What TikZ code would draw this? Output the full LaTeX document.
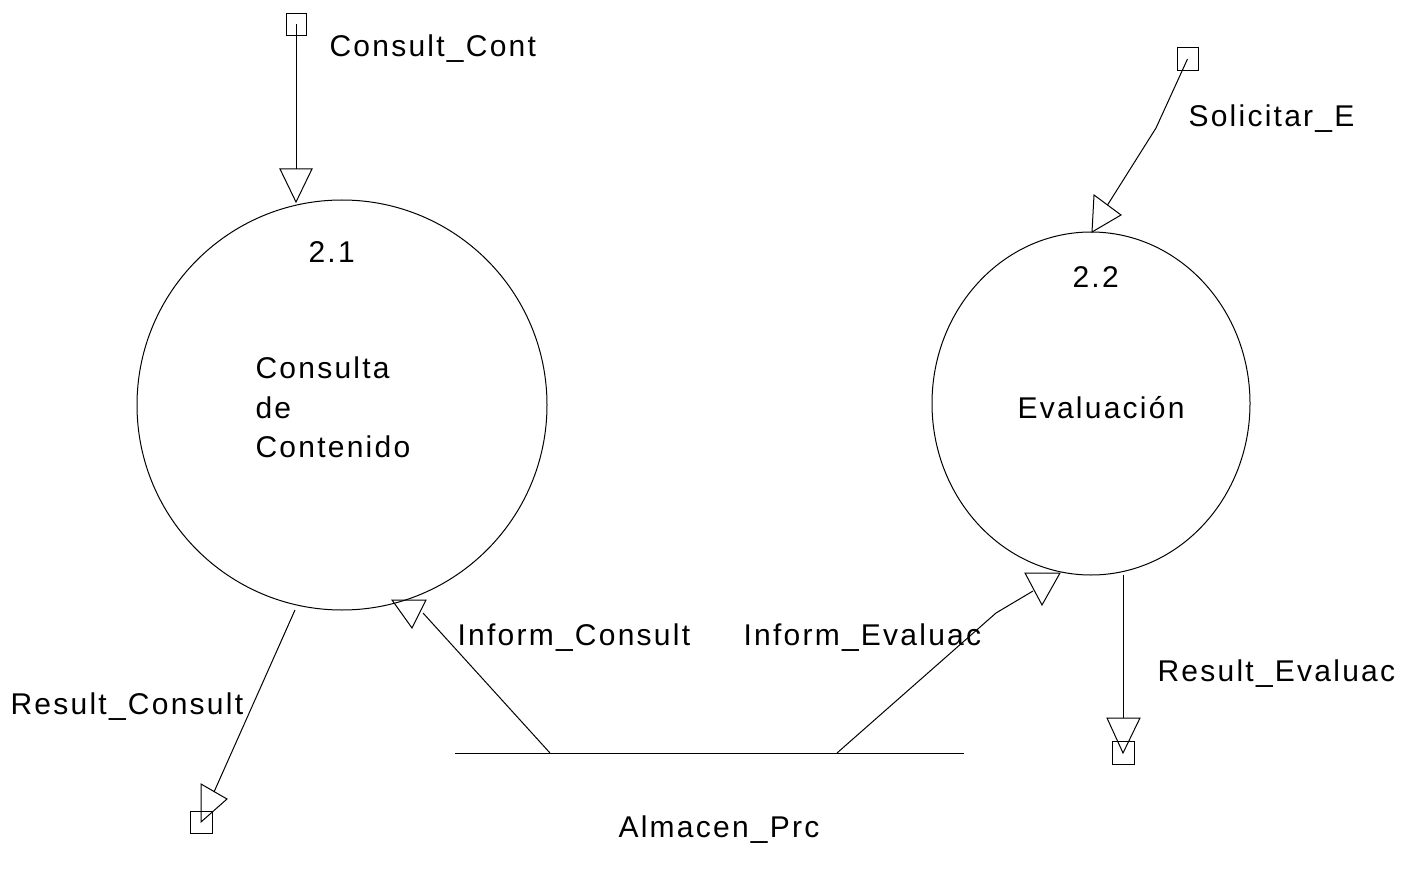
\documentclass[tikz,border=0pt]{standalone}
\usepackage{fontspec}
\setmainfont{Liberation Sans}[LetterSpace=7.5]
\usetikzlibrary{shapes.geometric}
\begin{document}
\begin{tikzpicture}[x=1pt,y=-1pt,line width=1pt,
  proc/.style={draw,ellipse,inner sep=0pt},
  term/.style={draw,rectangle,inner sep=0pt},
  flow/.style={draw,line join=miter},
  head/.style={draw,line join=miter},
  lbl/.style={anchor=base west,inner sep=0pt,font=\fontsize{30}{40}\selectfont}]
\useasboundingbox (0,0) rectangle (1415,890);
% processes
\node[proc,minimum width=410pt,minimum height=410pt] (p21) at (342,405) {};
\node[proc,minimum width=318pt,minimum height=343pt] (p22) at (1091,403.5) {};
% terminators
\node[term,minimum width=20pt,minimum height=22pt] (t1) at (296,24.5) {};
\node[term,minimum width=21pt,minimum height=23pt] (t2) at (1187.5,59) {};
\node[term,minimum width=22pt,minimum height=22pt] (t3) at (201,822) {};
\node[term,minimum width=22pt,minimum height=23pt] (t4) at (1123,752.5) {};
% store
\coordinate (s1) at (455,753);
\coordinate (s2) at (964,753);
\draw (s1) -- (s2);
% flow Consult_Cont
\coordinate (a1) at (296,169);
\draw[flow] (t1.center) -- (a1);
\draw[head] (280,169) -- (312,169) -- (296,202) -- cycle;
% flow Solicitar_E
\coordinate (b1) at (1156,128);
\coordinate (b2) at (1107.5,205);
\draw[flow] (t2.center) -- (b1) -- (b2);
\draw[head] (1094,195) -- (1121,215) -- (1092,232) -- cycle;
% flow Result_Consult
\coordinate (c0) at (295,610);
\coordinate (c1) at (214,792);
\draw[flow] (c0) -- (c1);
\draw[head] (201,784) -- (227,799) -- (t3.center) -- cycle;
% flow Inform_Consult
\coordinate (d0) at (550,753);
\coordinate (d1) at (423,613);
\draw[flow] (d0) -- (d1);
\draw[head] (392,600) -- (426,600) -- (412,628) -- cycle;
% flow Inform_Evaluac
\coordinate (e0) at (837,753);
\coordinate (e1) at (996,613);
\coordinate (e2) at (1033,591);
\draw[flow] (e0) -- (e1) -- (e2);
\draw[head] (1025,573) -- (1060,573) -- (1042,605) -- cycle;
% flow Result_Evaluac
\coordinate (f0) at (1123,575);
\coordinate (f1) at (1123,718);
\draw[flow] (f0) -- (f1);
\draw[head] (1107,718) -- (1140,718) -- (1123,753) -- cycle;
% labels
\node[lbl] (l1) at (329,57) {Consult\_Cont};
\node[lbl] (l2) at (1188,127) {Solicitar\_E};
\node[lbl] (l3) at (308,263) {2.1};
\node[lbl] (l4) at (255,378) {Consulta};
\node[lbl] (l5) at (255,418) {de};
\node[lbl] (l6) at (255,457) {Contenido};
\node[lbl] (l7) at (1072,288) {2.2};
\node[lbl] (l8) at (1017,418) {Evaluación};
\node[lbl] (l9) at (457,645) {Inform\_Consult};
\node[lbl] (l10) at (743,645) {Inform\_Evaluac};
\node[lbl] (l11) at (10,714) {Result\_Consult};
\node[lbl] (l12) at (1157,681) {Result\_Evaluac};
\node[lbl] (l13) at (618,837) {Almacen\_Prc};
\end{tikzpicture}
\end{document}
